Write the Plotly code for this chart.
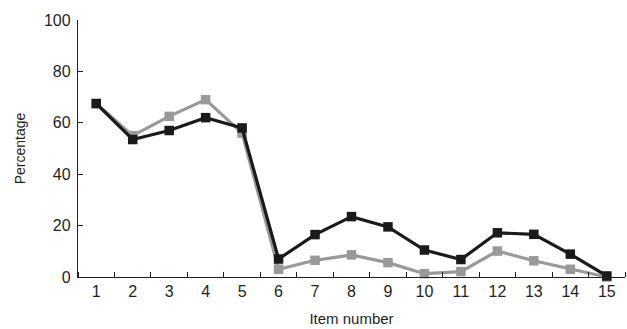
import plotly.graph_objects as go

items = list(range(1, 16))
black_series = [67.5, 53.5, 57, 62, 58, 7, 16.5, 23.5, 19.5, 10.5, 6.8, 17.2, 16.6, 8.9, 0.4]
gray_series = [67.5, 55, 62.5, 69, 56, 3, 6.5, 8.6, 5.6, 1.3, 2.1, 10.1, 6.3, 3, 0]
y_ticks = [0, 20, 40, 60, 80, 100]

fig = go.Figure()
fig.add_trace(go.Scatter(x=items, y=gray_series, mode="lines+markers",
                         line=dict(color="#999999", width=3.2),
                         marker=dict(symbol="square", size=9.5, color="#999999"),
                         showlegend=False, cliponaxis=False))
fig.add_trace(go.Scatter(x=items, y=black_series, mode="lines+markers",
                         line=dict(color="#1a1a1a", width=3.2),
                         marker=dict(symbol="square", size=9.5, color="#1a1a1a"),
                         showlegend=False, cliponaxis=False))

font = dict(family="Liberation Sans, Arial, sans-serif", size=15, color="#231f20")
fig.update_layout(
    width=627, height=329,
    margin=dict(l=78, r=2, t=20, b=52),
    paper_bgcolor="white", plot_bgcolor="white",
    font=font,
    xaxis=dict(range=[0.5, 15.5], tickvals=items, ticktext=[str(i) for i in items],
               ticks="", showgrid=False, zeroline=False, automargin=False,
               showline=True, linecolor="#231f20", linewidth=1.3,
               minor=dict(tick0=0.5, dtick=1, ticks="inside", ticklen=5,
                          tickcolor="#231f20", tickwidth=1.3, showgrid=False),
               title=dict(text="Item number", font=dict(size=15), standoff=14),
               tickfont=dict(size=16)),
    yaxis=dict(range=[0, 100], tickvals=y_ticks, ticks="inside", ticklen=5,
               tickcolor="#231f20", tickwidth=1.3, showgrid=False, zeroline=False,
               showline=True, linecolor="#231f20", linewidth=1.3, automargin=False,
               ticklabelstandoff=3,
               title=dict(text="Percentage", font=dict(size=14), standoff=15),
               tickfont=dict(size=16)),
)
fig.write_html("out.html", config={"displayModeBar": False},
               post_script="document.body.style.margin='0';document.body.style.overflow='hidden';")
